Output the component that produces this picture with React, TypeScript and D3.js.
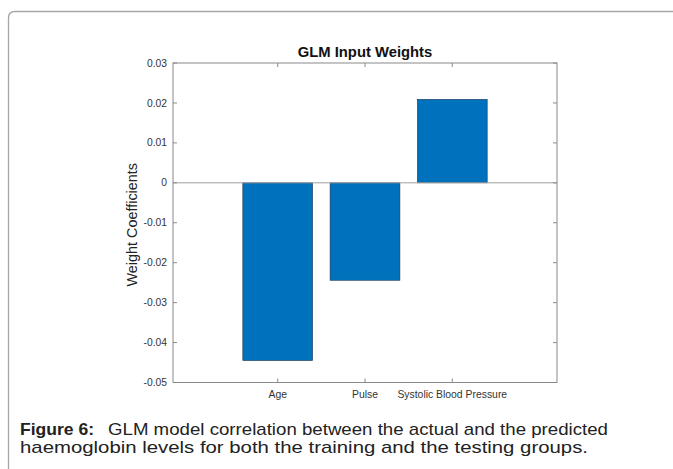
import React from "react";
import * as d3 from "d3";

const categories = ["Age", "Pulse", "Systolic Blood Pressure"];
const weights = [-0.0445, -0.0244, 0.0209];
const yTicks = [0.03, 0.02, 0.01, 0, -0.01, -0.02, -0.03, -0.04, -0.05];
const yTickLabels = ["0.03", "0.02", "0.01", "0", "-0.01", "-0.02", "-0.03", "-0.04", "-0.05"];

const W = 673;
const H = 469;
const plot = { left: 173, right: 557, top: 63, bottom: 382.5 };
const FONT = "'Liberation Sans', Arial, Helvetica, sans-serif";
const axisColor = "#8a8a8a";

export default function App() {
  const x = d3
    .scaleBand<string>()
    .domain(categories)
    .range([plot.left, plot.right])
    .paddingInner(0.2)
    .paddingOuter(0.8);
  const y = d3.scaleLinear().domain([-0.05, 0.03]).range([plot.bottom, plot.top]);
  const tickLen = 4;

  return (
    <svg
      width={W}
      height={H}
      style={{ position: "absolute", left: 0, top: 0, background: "#fff" }}
      fontFamily={FONT}
    >
      {/* card frame */}
      <path
        d={`M8.5,${H + 5} L8.5,18 Q8.5,11.5 15,11.5 L${W + 5},11.5`}
        fill="none"
        stroke="#a6a6a6"
        strokeWidth={1.3}
      />

      {/* title */}
      <text
        x={(plot.left + plot.right) / 2}
        y={57}
        textAnchor="middle"
        fontSize={14.8}
        fontWeight="bold"
        fill="#111"
      >
        GLM Input Weights
      </text>

      {/* bars */}
      {categories.map((c, i) => {
        const v = weights[i];
        const y0 = y(Math.max(0, v));
        const y1 = y(Math.min(0, v));
        return (
          <rect
            key={c}
            x={x(c)}
            y={y0}
            width={x.bandwidth()}
            height={y1 - y0}
            fill="#0072BD"
            stroke="#1f3550"
            strokeWidth={0.6}
          />
        );
      })}

      {/* zero baseline */}
      <line x1={plot.left} x2={plot.right} y1={y(0)} y2={y(0)} stroke="#a0a0a0" strokeWidth={1} />

      {/* axes box */}
      <rect
        x={plot.left}
        y={plot.top}
        width={plot.right - plot.left}
        height={plot.bottom - plot.top}
        fill="none"
        stroke={axisColor}
        strokeWidth={1}
      />

      {/* y ticks (both sides, inward) */}
      {yTicks.map((t, i) => (
        <g key={t}>
          <line x1={plot.left} x2={plot.left + tickLen} y1={y(t)} y2={y(t)} stroke={axisColor} />
          <line x1={plot.right} x2={plot.right - tickLen} y1={y(t)} y2={y(t)} stroke={axisColor} />
          <text
            x={plot.left - 6}
            y={y(t)}
            dy="0.35em"
            textAnchor="end"
            fontSize={10.3}
            fill="#333"
          >
            {yTickLabels[i]}
          </text>
        </g>
      ))}

      {/* x ticks (both sides, inward) */}
      {categories.map((c) => {
        const cx = (x(c) as number) + x.bandwidth() / 2;
        return (
          <g key={c}>
            <line x1={cx} x2={cx} y1={plot.bottom} y2={plot.bottom - tickLen} stroke={axisColor} />
            <line x1={cx} x2={cx} y1={plot.top} y2={plot.top + tickLen} stroke={axisColor} />
            <text x={cx} y={397.5} textAnchor="middle" fontSize={10.4} fill="#333">
              {c}
            </text>
          </g>
        );
      })}

      {/* y axis label */}
      <text
        transform={`translate(137,${(plot.top + plot.bottom) / 2 + 2}) rotate(-90)`}
        textAnchor="middle"
        fontSize={14.4}
        fill="#222"
      >
        Weight Coefficients
      </text>

      {/* caption */}
      <text x={20} y={435} fontSize={17} fill="#222" fontWeight="bold" textLength={74} lengthAdjust="spacingAndGlyphs">
        Figure 6:
      </text>
      <text x={108} y={435} fontSize={17} fill="#222" textLength={500} lengthAdjust="spacingAndGlyphs">
        GLM model correlation between the actual and the predicted
      </text>
      <text x={20} y={453} fontSize={17} fill="#222" textLength={568} lengthAdjust="spacingAndGlyphs">
        haemoglobin levels for both the training and the testing groups.
      </text>
    </svg>
  );
}
